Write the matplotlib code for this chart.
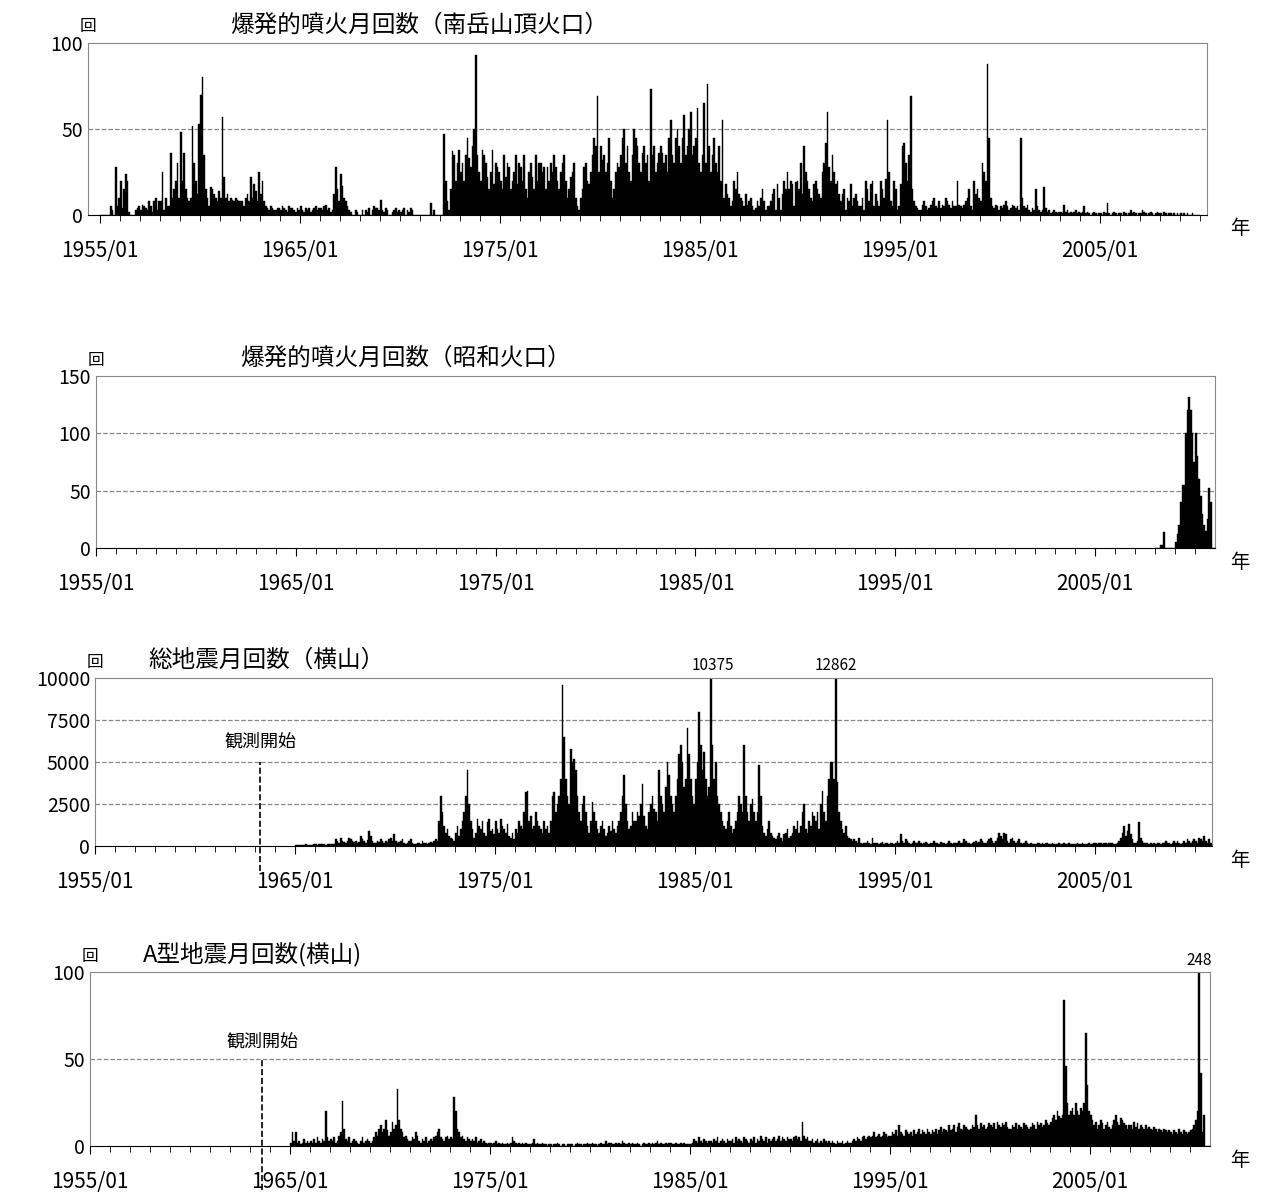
import matplotlib
matplotlib.use("Agg")
import matplotlib.pyplot as plt
import matplotlib.transforms as mtransforms
import numpy as np

plt.rcParams['font.family'] = ['Noto Sans CJK JP', 'DejaVu Sans']

# ---------------- data (monthly counts, per year Jan..Dec) ----------------
nanndake = {
1955:[0,0,0,0,0,0,5,3,0,28,5,10],1956:[20,4,15,24,20,2,0,0,0,3,4,5],
1957:[3,6,5,4,3,8,5,2,8,10,3,8],1958:[8,25,3,10,5,5,36,10,15,20,30,10],
1959:[48,20,36,15,10,8,10,52,30,20,12,53],1960:[70,80,35,15,10,5,16,15,12,10,8,14],
1961:[10,57,22,10,12,8,10,9,8,10,9,8],1962:[8,8,5,10,12,8,22,10,18,14,8,25],
1963:[12,20,8,5,4,3,5,4,3,3,4,4],1964:[3,5,4,3,2,5,4,4,3,2,4,3],
1965:[5,3,2,4,3,4,2,3,4,5,3,4],1966:[4,3,5,6,3,4,2,3,12,28,15,8],
1967:[24,17,10,8,5,3,2,0,0,3,2,0],1968:[0,3,0,3,2,4,0,3,5,4,4,3],
1969:[9,3,2,4,3,0,0,2,3,4,2,3],1970:[2,3,4,0,3,2,4,3,0,0,0,0],
1971:[0,0,0,0,0,0,7,0,3,0,0,0],1972:[0,0,47,20,8,3,15,37,35,20,30,38],
1973:[25,30,20,35,45,33,28,40,50,93,35,25],1974:[20,38,35,30,22,15,25,38,18,30,28,25],
1975:[20,15,35,22,30,28,15,20,25,35,18,30],1976:[28,20,35,15,10,25,30,22,15,35,20,30],
1977:[30,25,28,15,28,20,30,25,35,28,20,15],1978:[25,30,35,20,10,15,22,25,30,10,5,3],
1979:[10,15,28,30,20,18,25,35,45,40,69,25],1980:[40,32,35,25,30,45,20,10,15,25,30,28],
1981:[35,45,50,30,40,25,20,35,50,45,40,30],1982:[25,36,40,30,35,20,73,35,40,25,30,36],
1983:[40,36,30,35,25,45,55,35,30,45,50,40],1984:[30,45,58,35,40,50,60,35,40,45,62,30],
1985:[25,35,65,30,76,40,25,35,45,30,25,40],1986:[20,55,10,18,12,10,5,8,20,15,25,12],
1987:[10,8,5,12,6,8,10,5,3,4,8,5],1988:[10,15,8,3,5,5,8,12,15,3,18,10],
1989:[3,12,20,15,25,15,20,18,5,19,20,15],1990:[30,12,40,25,20,15,10,8,18,20,15,12],
1991:[10,25,30,42,60,28,20,35,25,18,20,12],1992:[8,12,15,3,10,8,18,5,10,12,8,5],
1993:[5,10,3,20,15,8,18,20,5,12,8,5],1994:[20,15,10,21,55,25,8,5,20,15,3,5],
1995:[18,40,42,30,20,35,69,15,8,5,4,3],1996:[3,6,8,5,3,4,6,8,10,5,4,8],
1997:[4,6,5,10,8,6,4,8,5,5,20,6],1998:[5,4,6,8,10,15,5,3,20,12,15,10],
1999:[8,30,25,20,88,45,10,5,4,6,5,3],2000:[5,4,6,8,5,3,4,6,5,4,5,3],
2001:[45,10,5,4,6,3,2,4,3,15,5,3],2002:[2,3,16,4,2,3,1,2,3,2,1,2],
2003:[2,1,6,2,3,1,2,1,2,3,1,2],2004:[1,2,5,1,2,1,0,1,2,1,0,1],
2005:[1,0,2,1,7,1,0,1,2,1,0,1],2006:[1,0,2,1,0,1,3,1,2,1,0,1],
2007:[1,3,2,1,0,1,2,1,0,1,2,1],2008:[1,0,2,1,0,1,1,0,1,0,1,0],
2009:[1,0,1,0,1,0,0,1,0,0,0,0],
}
showa = {
2008:[0,0,0,3,3,14,0,0,0,0,0,0],
2009:[5,12,20,40,55,55,100,120,132,120,100,75],
2010:[100,80,60,45,30,20,15,25,52,40,0,0],
}
total_eq = {
1965:[50,60,80,70,60,80,90,70,60,80,70,90],1966:[100,80,120,90,110,100,80,90,100,120,110,100],
1967:[400,300,200,450,300,250,200,300,500,400,300,250],1968:[300,200,250,600,400,300,200,350,900,600,300,200],
1969:[200,300,250,400,300,200,300,250,400,500,300,700],1970:[300,200,250,300,400,200,100,150,300,400,200,100],
1971:[100,150,200,100,300,150,200,100,150,250,200,300],1972:[400,300,1500,3000,2000,1200,800,1000,600,500,400,300],
1973:[800,1200,600,1000,1500,2000,3000,4500,2500,1500,1000,500],1974:[800,1600,1200,1000,1500,800,600,1400,1600,900,1000,700],
1975:[1500,1000,800,1600,1200,1000,800,1300,600,500,800,400],1976:[1000,800,1500,1200,1000,2000,3200,3300,1500,1800,1000,1200],
1977:[2000,1500,1200,1000,800,1500,1000,1200,800,1500,3000,3200],1978:[2000,2500,3000,4000,9600,6500,4000,3000,2500,5800,5000,5200],
1979:[4500,3000,2000,1500,2500,3000,2000,1200,800,1500,2600,2000],1980:[1500,1000,800,1200,1500,1000,600,800,1200,900,1500,1000],
1981:[800,1200,1500,2000,3000,4200,2500,1500,1000,1200,2000,1500],1982:[1500,2000,1800,2500,3700,1800,1200,1000,2000,2500,3000,2200],
1983:[2000,1500,4500,3000,2500,2000,3500,5000,4200,3000,2500,2000],1984:[3000,4000,5500,6000,5000,3500,4000,7000,5500,4000,3000,2500],
1985:[4000,5000,8000,6000,4500,5600,4000,3000,3500,10375,6000,4000],1986:[5000,3000,2500,2000,1500,1200,1000,1500,2000,1200,800,1000],
1987:[1500,2000,3000,2500,2000,6000,3000,2000,1500,2500,2800,2000],1988:[1500,2000,4800,3000,1200,800,600,1000,1500,800,600,500],
1989:[400,600,800,500,300,700,800,1000,500,600,800,1200],1990:[1000,1500,800,1200,2000,2500,1000,800,1500,1200,2000,1800],
1991:[1500,2000,1000,2500,3300,2000,1500,3000,4000,5000,5000,4000],1992:[12862,3800,2000,1500,1000,800,1200,600,500,400,300,400],
1993:[300,200,500,200,100,150,200,300,200,100,500,150],1994:[150,200,100,150,250,100,200,150,100,200,150,100],
1995:[200,300,200,700,300,200,400,300,200,100,200,300],1996:[150,200,300,150,100,200,250,150,100,200,150,300],
1997:[200,150,100,250,200,150,100,200,300,150,100,200],1998:[150,200,300,200,150,400,300,200,150,100,200,250],
1999:[300,200,250,400,300,200,150,300,400,500,300,200],2000:[300,500,800,600,400,800,700,300,200,400,500,300],
2001:[200,300,400,200,100,200,300,200,100,200,100,100],2002:[100,150,200,100,150,100,200,150,100,100,150,100],
2003:[100,100,150,100,100,150,100,100,150,100,100,100],2004:[100,150,100,100,150,100,100,100,150,100,100,150],
2005:[150,100,200,150,100,150,200,100,150,200,150,100],2006:[100,200,300,500,800,1200,600,900,1300,700,400,200],
2007:[200,300,1400,500,300,200,150,200,100,150,100,150],2008:[100,150,200,100,150,200,300,200,150,100,200,300],
2009:[200,300,200,100,150,300,200,400,300,200,300,400],2010:[300,200,500,400,300,600,300,200,400,200,0,0],
}
a_type = {
1965:[2,8,3,8,2,3,1,2,4,2,3,2],1966:[3,2,4,2,5,3,2,4,3,20,5,3],
1967:[4,3,5,2,3,6,8,26,10,4,3,5],1968:[2,3,4,3,2,1,3,5,2,3,4,3],
1969:[2,3,5,8,6,10,12,8,10,15,9,6],1970:[8,14,10,12,33,15,10,8,5,6,4,3],
1971:[3,5,4,8,6,3,2,4,3,5,2,3],1972:[4,3,5,6,8,10,5,4,3,5,6,4],
1973:[5,4,28,20,10,8,5,6,4,3,5,4],1974:[3,4,3,5,2,3,4,2,3,2,1,2],
1975:[2,1,2,3,1,2,1,2,1,1,2,1],1976:[2,5,3,2,1,2,1,2,1,2,1,1],
1977:[1,2,4,1,2,1,1,2,1,1,0,1],1978:[1,0,1,1,2,1,0,1,1,0,1,1],
1979:[1,1,0,1,2,1,1,0,1,1,2,1],1980:[1,2,1,1,0,1,2,1,1,3,1,2],
1981:[2,1,1,2,1,2,1,3,2,1,1,2],1982:[1,2,1,1,2,1,0,1,2,1,1,2],
1983:[1,2,1,2,3,1,2,1,1,2,1,2],1984:[2,1,1,2,1,1,2,1,2,1,1,1],
1985:[1,2,4,3,2,5,3,2,4,3,2,3],1986:[3,2,4,3,5,2,3,4,3,2,4,3],
1987:[3,4,2,5,3,4,3,2,5,4,3,2],1988:[4,3,5,2,4,3,6,4,3,5,2,4],
1989:[3,4,5,3,4,6,3,5,4,3,5,4],1990:[4,3,5,6,4,5,3,14,6,4,5,3],
1991:[3,4,2,3,4,2,3,2,4,3,2,3],1992:[2,3,2,1,3,2,2,3,1,2,3,2],
1993:[2,3,4,3,5,4,3,5,6,4,5,6],1994:[5,6,8,5,6,7,5,6,8,7,5,6],
1995:[6,8,7,9,6,12,8,7,6,9,8,7],1996:[8,6,9,7,8,10,7,9,8,7,10,8],
1997:[7,9,8,10,7,9,11,8,10,9,8,12],1998:[9,10,12,8,11,13,10,9,12,11,10,9],
1999:[10,12,11,18,12,10,13,11,12,10,11,13],2000:[12,11,13,10,14,12,11,13,12,14,11,10],
2001:[10,12,11,13,10,12,11,10,13,12,11,10],2002:[11,13,12,10,14,12,13,11,12,15,13,12],
2003:[14,16,18,15,20,17,16,18,84,46,25,18],2004:[20,22,18,25,20,18,22,20,25,65,35,20],
2005:[18,15,12,14,10,12,15,13,10,12,14,11],2006:[10,12,15,18,14,12,16,15,13,12,10,12],
2007:[12,10,14,11,13,10,12,11,10,12,10,11],2008:[10,9,11,10,8,10,9,8,10,9,8,9],
2009:[8,7,9,8,7,10,8,7,9,8,7,8],2010:[9,10,12,15,20,248,42,8,18,0,0,0],
}

panels = [
    dict(data=nanndake, yt=[0,50,100], ymax=100, xl=(1954.4,2010.35), rect=(88,43,1207,215),
         title="爆発的噴火月回数（南岳山頂火口）", tx=230),
    dict(data=showa, yt=[0,50,100,150], ymax=150, xl=(1955.0,2011.0), rect=(96,376,1215,548),
         title="爆発的噴火月回数（昭和火口）", tx=240),
    dict(data=total_eq, yt=[0,2500,5000,7500,10000], ymax=10000, xl=(1955.0,2010.85), rect=(95,678,1212,846),
         title="総地震月回数（横山）", tx=148),
    dict(data=a_type, yt=[0,50,100], ymax=100, xl=(1955.0,2011.0), rect=(90,972,1210,1146),
         title="A型地震月回数(横山)", tx=143),
]

W, H = 1263, 1198
fig = plt.figure(figsize=(W/100, H/100), dpi=100)
axes = []
for p in panels:
    x0, y0, x1, y1 = p['rect']
    ax = fig.add_axes([x0/W, 1-y1/H, (x1-x0)/W, (y1-y0)/H])
    axes.append(ax)
    xs, vs = [], []
    for yr, vals in p['data'].items():
        for m, v in enumerate(vals):
            xs.append(yr + m/12); vs.append(v)
    ax.bar(xs, vs, width=1/12, align='edge', color='black', edgecolor='black', linewidth=0.3)
    ax.set_xlim(*p['xl']); ax.set_ylim(0, p['ymax'])
    ax.set_yticks(p['yt'])
    ax.set_yticklabels([str(t) for t in p['yt']], fontsize=14)
    for t in p['yt'][1:-1]:
        ax.axhline(t, color='#888888', ls='--', lw=0.9, zorder=0)
    ax.set_xticks(np.arange(1955, 2006, 10))
    ax.set_xticklabels([f"{y}/01" for y in range(1955, 2006, 10)], fontsize=15)
    ax.set_xticks(np.arange(1955, 2011, 1), minor=True)
    ax.tick_params(axis='x', which='major', length=6, direction='out', pad=12)
    ax.tick_params(axis='x', which='minor', length=4, direction='out')
    ax.tick_params(axis='y', length=0)
    for s in ax.spines.values():
        s.set_color('#888888')
    ax.spines['bottom'].set_color('black')
    fig.text(x0/W, 1-(y0-16)/H, "回", fontsize=12, ha='center', va='center')
    fig.text(1240/W, 1-(y1+14)/H, "年", fontsize=14, ha='center', va='center')
    fig.text(p['tx']/W, 1-(y0-18)/H, p['title'], fontsize=17, va='center')

# annotations for clipped bars
axes[2].text(1985.9, 10250, "10375", ha='center', va='bottom', fontsize=11)
axes[2].text(1992.05, 10250, "12862", ha='center', va='bottom', fontsize=11)
axes[3].text(2010.45, 102, "248", ha='center', va='bottom', fontsize=11)

# observation start markers
for ax, xv, y_lo, y_hi, ytxt in [(axes[2], 1963.25, -0.15, 0.5, 0.62), (axes[3], 1963.6, -0.25, 0.5, 0.6)]:
    tr = mtransforms.blended_transform_factory(ax.transData, ax.transAxes)
    ax.plot([xv, xv], [y_lo, y_hi], transform=tr, color='black', ls='--', lw=1.2, clip_on=False)
    ax.text(xv, ytxt, "観測開始", transform=tr, ha='center', va='center', fontsize=13)

fig.savefig("out.png", dpi=100)
